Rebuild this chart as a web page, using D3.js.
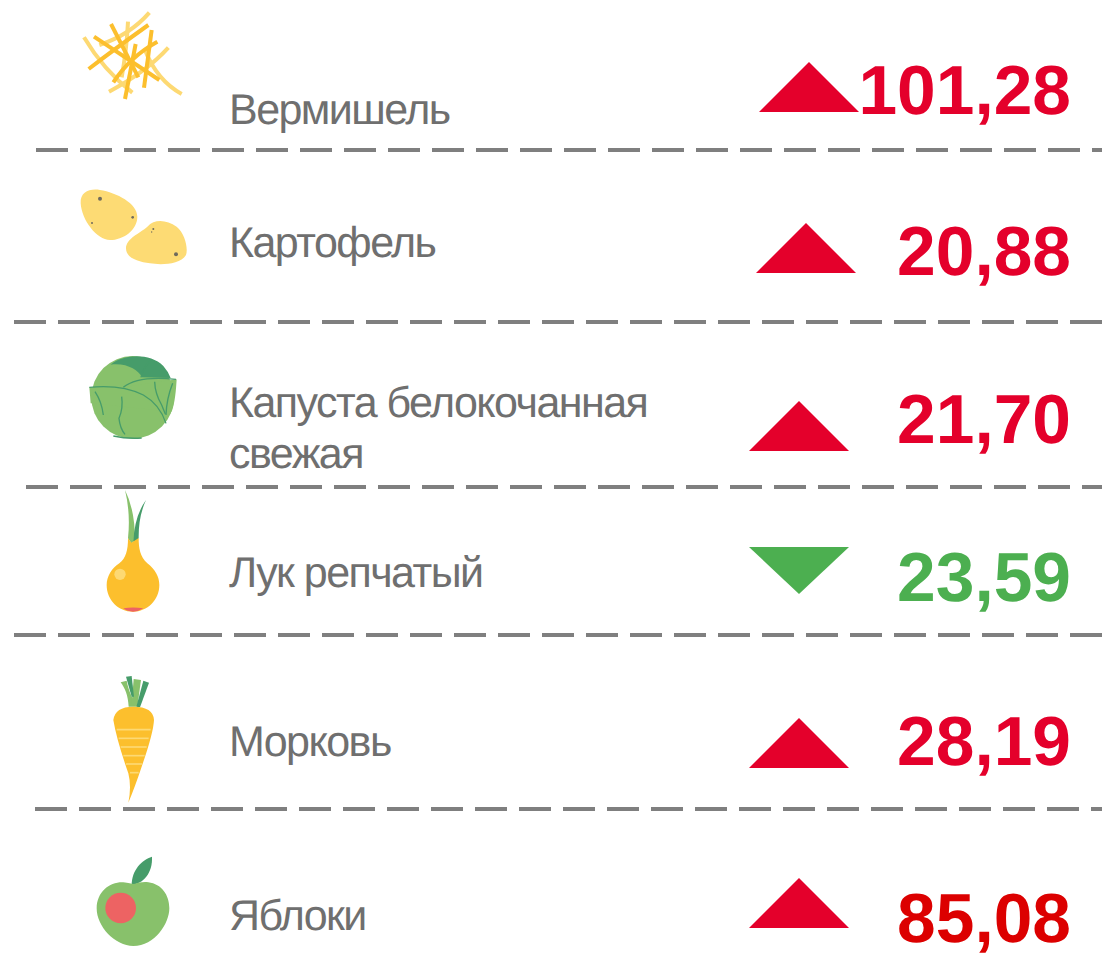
<!DOCTYPE html>
<html>
<head>
<meta charset="utf-8">
<script src="https://cdn.jsdelivr.net/npm/d3@7"></script>
<style>
  html, body { margin: 0; padding: 0; background: #fff; overflow: hidden; }
  text { font-family: "Liberation Sans", Arial, sans-serif; text-rendering: geometricPrecision; }
</style>
</head>
<body>
<svg id="chart" width="1102" height="954"></svg>
<script>
// data
const categories = [
  ["Вермишель"],
  ["Картофель"],
  ["Капуста белокочанная", "свежая"],
  ["Лук репчатый"],
  ["Морковь"],
  ["Яблоки"],
];
const prices = [101.28, 20.88, 21.7, 23.59, 28.19, 85.08];
const directions = ["up", "up", "up", "down", "up", "up"];
const valueColors = ["#e4002b", "#e4002b", "#e4002b", "#4caf50", "#e4002b", "#dc0000"];

// layout, measured row by row since the rows are not evenly spaced
const labelBaselines = [124, 257, 417, 587, 756, 930];
const valueBaselines = [114, 275, 443, 601, 765, 942];
const triangleLeft = [759, 756, 749, 749, 749, 749];
const triangleTop = [62, 223, 401, 547, 718, 878];
const separatorY = [150, 322, 487, 635, 809];
const separatorStart = [36, 14, 26, 14, 35];

const RED = "#e4002b";
const GREEN = "#4caf50";
const triW = 100, triUp = 50, triDown = 47;

const svg = d3.select("#chart");
const fmt = d3.formatLocale({ decimal: ",", thousands: " ", grouping: [3], currency: ["", ""] }).format(".2f");

// separators
svg.selectAll(".sep")
  .data(separatorY)
  .enter()
  .append("line")
  .attr("class", "sep")
  .attr("x1", (d, i) => separatorStart[i])
  .attr("x2", 1102)
  .attr("y1", d => d)
  .attr("y2", d => d)
  .attr("stroke", "#7f7f7f")
  .attr("stroke-width", 4)
  .attr("stroke-dasharray", "32 12");

// labels
const labels = svg.selectAll(".label")
  .data(categories)
  .enter()
  .append("text")
  .attr("class", "label")
  .attr("font-size", 43)
  .attr("letter-spacing", -1.55)
  .attr("fill", "#6f6f6f");
labels.selectAll("tspan")
  .data((d, i) => d.map((t, j) => ({ t, y: labelBaselines[i] + j * 50.5 })))
  .enter()
  .append("tspan")
  .attr("x", 229)
  .attr("y", d => d.y)
  .text(d => d.t);

// triangles
const tri = d3.line();
svg.selectAll(".tri")
  .data(directions)
  .enter()
  .append("path")
  .attr("class", "tri")
  .attr("fill", d => (d === "up" ? RED : GREEN))
  .attr("d", (d, i) => {
    const x = triangleLeft[i], y = triangleTop[i];
    return (d === "up"
      ? tri([[x, y + triUp], [x + triW / 2, y], [x + triW, y + triUp]])
      : tri([[x, y], [x + triW / 2, y + triDown], [x + triW, y]])) + "Z";
  });

// values
svg.selectAll(".val")
  .data(prices)
  .enter()
  .append("text")
  .attr("class", "val")
  .attr("x", 1071)
  .attr("y", (d, i) => valueBaselines[i])
  .attr("text-anchor", "end")
  .attr("font-size", 69.5)
  .attr("font-weight", "bold")
  .attr("fill", (d, i) => valueColors[i])
  .text(d => fmt(d));

// icons, traced at 3x so they are drawn scaled back down
const LIGHT = "#fdd973", AMBER = "#fcbf2d", LEAF = "#88c16b", DARK = "#469c6a", PINK = "#ed6363";

function icon(ox, oy) {
  return svg.append("g").attr("transform", `translate(${ox},${oy}) scale(${1 / 3})`);
}
function fills(g, rows) {
  rows.forEach(([d, fill]) => g.append("path").attr("d", d).attr("fill", fill));
}
function strokes(g, rows, color, width) {
  rows.forEach(d =>
    g.append("path").attr("d", d).attr("fill", "none").attr("stroke", color).attr("stroke-width", width)
  );
}
function dots(g, rows, color) {
  rows.forEach(([cx, cy, r]) =>
    g.append("circle").attr("cx", cx).attr("cy", cy).attr("r", r).attr("fill", color)
  );
}

// noodles
const noodles = icon(60, 0);
strokes(noodles, [
  "M72 112Q130 210 217 278",
  "M268 38Q210 105 118 135",
  "M204 65Q200 150 185 232",
  "M365 282Q290 240 255 150",
  "M325 143Q260 215 147 275",
], LIGHT, 12);
strokes(noodles, [
  "M102 110L298 240",
  "M153 72L235 232",
  "M265 75Q160 150 86 207",
  "M275 90L252 263",
  "M292 125Q210 170 160 247",
  "M227 132L195 297",
], AMBER, 12);

// potatoes
const potato = icon(60, 0);
fills(potato, [
  ["M62 610C60 575 90 565 120 570C170 578 232 610 232 650C232 690 190 720 150 720C110 720 65 660 62 610Z", "#fddb74"],
  ["M198 745C198 715 240 700 262 680C285 655 320 660 350 680C375 700 385 745 378 765C360 795 300 795 270 790C235 785 198 775 198 745Z", "#fddb74"],
]);
dots(potato, [[120, 596, 6], [218, 652, 4], [96, 669, 3], [348, 763, 6], [280, 687, 3], [275, 696, 2]], "#6f6a5c");

// cabbage
const cabbage = icon(60, 340);
fills(cabbage, [
  ["M94 172A124 124 0 0 1 342 172A124 124 0 0 1 94 172Z", LEAF],
  ["M152 74C190 42 270 38 310 78Q325 95 332 114L246 112C235 90 200 68 152 74Z", DARK],
  ["M88 142L190 142L350 118C348 150 345 190 335 215L92 190Z", LEAF],
]);
strokes(cabbage, [
  "M88 142C150 136 200 140 250 165C285 185 305 210 318 250",
  "M190 142C210 125 250 108 348 118",
  "M272 63Q250 80 243 112",
  "M105 155Q125 185 130 225",
  "M185 170Q190 205 177 235Q180 265 195 283",
  "M160 288Q200 297 245 294",
  "M284 125Q285 160 305 195L316 222",
  "M338 130Q320 175 318 225",
], DARK, 4);

// onion
const onion = icon(60, 340);
fills(onion, [
  ["M195 450Q225 510 225 600L214 610L204 595Q212 520 195 450Z", LEAF],
  ["M258 480Q222 530 220 610L236 595Q235 530 258 480Z", DARK],
  ["M204 595L214 608L236 594C236 625 240 650 262 670C285 688 298 710 298 735C298 780 262 815 219 815C175 815 140 780 140 735C140 710 155 685 178 670C198 655 204 630 204 595Z", AMBER],
  ["M190 805Q219 800 250 805Q235 815 219 815Q203 815 190 805Z", PINK],
]);
dots(onion, [[180, 703, 17]], LIGHT);

// carrot
const carrot = icon(60, 660);
fills(carrot, [
  ["M182 67L200 62C205 90 215 110 230 140L206 140C204 105 195 85 182 67Z", LEAF],
  ["M221 57L243 60L232 140L215 130Z", LEAF],
  ["M198 50L215 48L222 110L215 110Z", DARK],
  ["M250 62L267 68L240 142L229 140Z", DARK],
  ["M160 180Q165 140 220 140Q280 140 282 180Q280 220 245 320Q225 380 205 428Q215 380 205 340Q170 240 160 180Z", AMBER],
]);
[[170, 272, 209], [176, 266, 235], [182, 260, 261], [190, 254, 287], [198, 246, 312], [210, 236, 338]].forEach(([x1, x2, y]) =>
  carrot.append("line").attr("x1", x1).attr("x2", x2).attr("y1", y).attr("y2", y)
    .attr("stroke", LIGHT).attr("stroke-width", 5)
);

// apple
const apple = icon(60, 660);
fills(apple, [
  ["M215 675C215 630 245 600 276 590C278 640 250 670 215 675Z", DARK],
  ["M110 745C110 695 150 665 190 667C205 668 215 672 222 672C235 668 250 665 265 667C305 672 328 705 328 745C328 790 285 858 220 858C165 858 110 800 110 745Z", LEAF],
]);
dots(apple, [[182, 744, 46]], PINK);
</script>
</body>
</html>
